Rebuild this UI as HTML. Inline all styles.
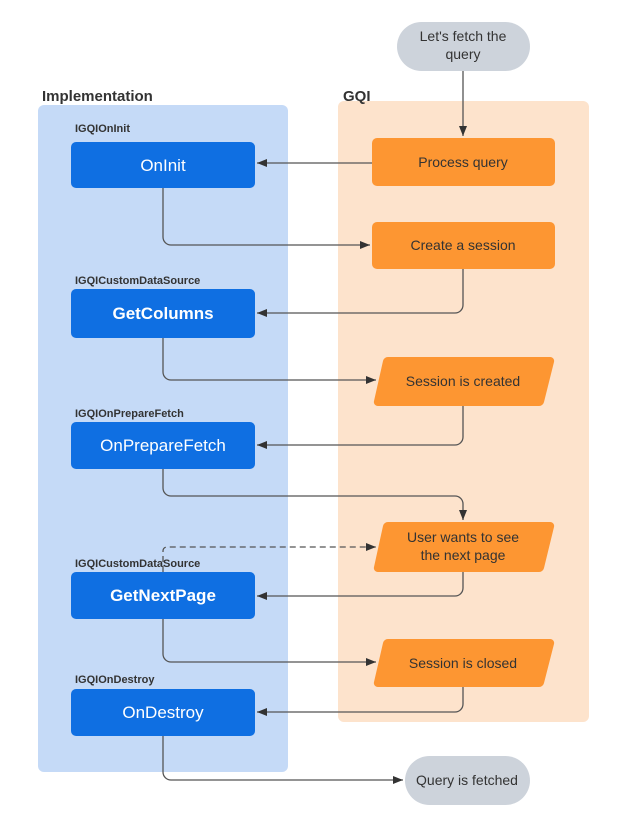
<!DOCTYPE html>
<html><head><style>body{margin:0;background:#fff}svg{display:block}</style></head>
<body>
<svg width="620" height="839" xmlns="http://www.w3.org/2000/svg" font-family="Liberation Sans, sans-serif">
<defs><marker id="a" markerWidth="10" markerHeight="8" refX="10" refY="4" orient="auto" markerUnits="userSpaceOnUse"><path d="M0,0 L10,4 L0,8 z" fill="#333"/></marker></defs>
<rect x="38" y="105" width="250" height="667" rx="6" fill="#c5daf7"/>
<rect x="338" y="101" width="251" height="621" rx="6" fill="#fde3cc"/>
<text x="42" y="101" font-size="15" font-weight="bold" fill="#333">Implementation</text>
<text x="343" y="101" font-size="15" font-weight="bold" fill="#333">GQI</text>
<g font-size="11" font-weight="bold" fill="#333">
<text x="75" y="132">IGQIOnInit</text>
<text x="75" y="284">IGQICustomDataSource</text>
<text x="75" y="417">IGQIOnPrepareFetch</text>
<text x="75" y="567">IGQICustomDataSource</text>
<text x="75" y="683">IGQIOnDestroy</text>
</g>
<g fill="none" stroke="#555" stroke-width="1.3">
<path d="M463,71 V136" marker-end="url(#a)"/>
<path d="M372,163 H257" marker-end="url(#a)"/>
<path d="M163,188 V237 a8,8 0 0 0 8,8 H370" marker-end="url(#a)"/>
<path d="M463,269 V305 a8,8 0 0 1 -8,8 H257" marker-end="url(#a)"/>
<path d="M163,338 V372 a8,8 0 0 0 8,8 H376" marker-end="url(#a)"/>
<path d="M463,406 V437 a8,8 0 0 1 -8,8 H257" marker-end="url(#a)"/>
<path d="M163,469 V488 a8,8 0 0 0 8,8 H455 a8,8 0 0 1 8,8 V520" marker-end="url(#a)"/>
<path d="M163,572 V551 a4,4 0 0 1 4,-4 H376" stroke-dasharray="6,4" marker-end="url(#a)"/>
<path d="M463,572 V588 a8,8 0 0 1 -8,8 H257" marker-end="url(#a)"/>
<path d="M163,619 V654 a8,8 0 0 0 8,8 H376" marker-end="url(#a)"/>
<path d="M463,687 V704 a8,8 0 0 1 -8,8 H257" marker-end="url(#a)"/>
<path d="M163,736 V772 a8,8 0 0 0 8,8 H403" marker-end="url(#a)"/>
</g>
<rect x="397" y="22" width="133" height="49" rx="24.5" fill="#cdd3db"/>
<text x="463" y="41" font-size="14" fill="#333" text-anchor="middle">Let's fetch the</text>
<text x="463" y="59" font-size="14" fill="#333" text-anchor="middle">query</text>
<rect x="405" y="756" width="125" height="49" rx="24.5" fill="#cdd3db"/>
<text x="467" y="785" font-size="14" fill="#333" text-anchor="middle">Query is fetched</text>
<g fill="#fd9632">
<rect x="372" y="138" width="183" height="48" rx="5"/>
<rect x="372" y="222" width="183" height="47" rx="5"/>
<path d="M388,357 H550 a4,4 0 0 1 4,5 L544,402 a5,5 0 0 1 -5,4 H378 a4,4 0 0 1 -4,-5 L383,361 a5,5 0 0 1 5,-4z"/>
<path d="M388,522 H550 a4,4 0 0 1 4,5 L544,568 a5,5 0 0 1 -5,4 H378 a4,4 0 0 1 -4,-5 L383,526 a5,5 0 0 1 5,-4z"/>
<path d="M388,639 H550 a4,4 0 0 1 4,5 L544,683 a5,5 0 0 1 -5,4 H378 a4,4 0 0 1 -4,-5 L383,643 a5,5 0 0 1 5,-4z"/>
</g>
<g font-size="14" fill="#333" text-anchor="middle">
<text x="463" y="167">Process query</text>
<text x="463" y="250">Create a session</text>
<text x="463" y="386">Session is created</text>
<text x="463" y="542">User wants to see</text>
<text x="463" y="560">the next page</text>
<text x="463" y="668">Session is closed</text>
</g>
<g fill="#0f6fe2">
<rect x="71" y="142" width="184" height="46" rx="5"/>
<rect x="71" y="289" width="184" height="49" rx="5"/>
<rect x="71" y="422" width="184" height="47" rx="5"/>
<rect x="71" y="572" width="184" height="47" rx="5"/>
<rect x="71" y="689" width="184" height="47" rx="5"/>
</g>
<g font-size="17" fill="#fff" text-anchor="middle">
<text x="163" y="171">OnInit</text>
<text x="163" y="319" font-weight="bold">GetColumns</text>
<text x="163" y="451">OnPrepareFetch</text>
<text x="163" y="601" font-weight="bold">GetNextPage</text>
<text x="163" y="718">OnDestroy</text>
</g>
</svg>
</body></html>
